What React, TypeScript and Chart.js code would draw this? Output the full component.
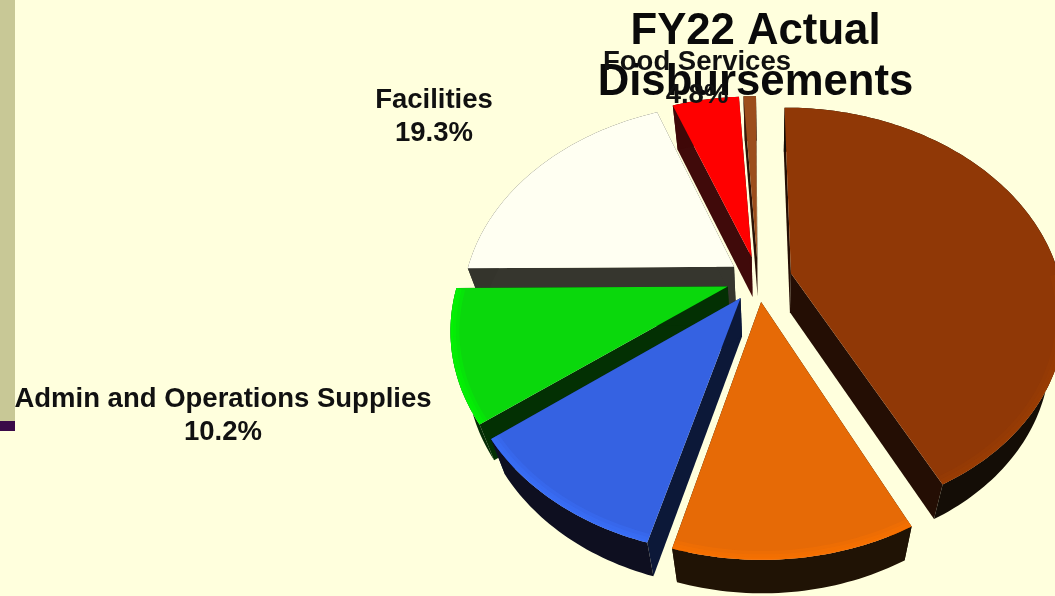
import React, { useEffect, useRef } from "react";
import { Chart, registerables } from "chart.js";

Chart.register(...registerables);

const categories = ["Salaries", "Benefits", "Purchased Services", "Admin and Operations Supplies", "Facilities", "Food Services", "Other"];
const shares = [42.6, 11.7, 10.4, 10.2, 19.3, 4.8, 0.9];
const explode = [29, 26, 26, 27, 25, 26, 26];
const topColors = ["#903806", "#e66a06", "#3562e2", "#0ad80c", "#fffff2", "#ff0000", "#9c4e1c"];
const rimColors = ["#a04004", "#ff7400", "#3a74ff", "#00ff00", "#ffffff", "#ff0000", "#a85420"];
const outerWalls = ["#140d06", "#201305", "#0e0f20", "#062c06", "#34342c", "#3f0808", "#3a1a0a"];
const sideWalls = ["#240e04", "#201305", "#0c1838", "#033003", "#36362e", "#400a0a", "#2a1206"];
const paintOrder = [4, 6, 5, 0, 3, 2, 1];
const titleLines = ["FY22 Actual", "Disbursements"];
const labelled = [
  { index: 4, x: 434, y: 100 },
  { index: 3, x: 223, y: 399 },
  { index: 5, x: 697, y: 62 },
];

// perspective view of the pie's plane
const view = { cx: 758, cy: 279, rx: 269, ry: 199, persp: 0.19, depthBack: 39, depthTilt: 5, vanishX: 770, converge: 0.05 };

function project(X: number, Y: number, z: number) {
  const w = 1 / (1 - view.persp * Y);
  const x = view.cx + view.rx * X * w;
  const y = view.cy + view.ry * Y * w + z * (view.depthBack - view.depthTilt * Y);
  return { x: x + (view.vanishX - x) * view.converge * z, y };
}

function poly(ctx: CanvasRenderingContext2D, pts: { x: number; y: number }[], fill: string) {
  ctx.beginPath();
  pts.forEach((p, i) => (i ? ctx.lineTo(p.x, p.y) : ctx.moveTo(p.x, p.y)));
  ctx.closePath();
  ctx.fillStyle = fill;
  ctx.fill();
}

const pie3d = {
  id: "pie3d",
  beforeDatasetsDraw(chart: any) {
    const { ctx } = chart;
    const arcs = chart.getDatasetMeta(0).data;
    ctx.save();
    paintOrder.forEach((i) => {
      const el = arcs[i];
      const { startAngle, endAngle, outerRadius } = el.getProps(["startAngle", "endAngle", "outerRadius"], true);
      const mid = (startAngle + endAngle) / 2;
      const r = el.options.offset / outerRadius;
      const ox = Math.cos(mid) * r;
      const oy = Math.sin(mid) * r;
      const steps = Math.max(3, Math.ceil((endAngle - startAngle) / 0.02));
      const angles = Array.from({ length: steps + 1 }, (_, k) => startAngle + ((endAngle - startAngle) * k) / steps);
      const top = angles.map((a) => project(ox + Math.cos(a), oy + Math.sin(a), 0));
      const bottom = angles.map((a) => project(ox + Math.cos(a), oy + Math.sin(a), 1));
      const apexTop = project(ox, oy, 0);
      const apexBottom = project(ox, oy, 1);
      poly(ctx, [apexTop, top[0], bottom[0], apexBottom], sideWalls[i]);
      poly(ctx, [apexTop, top[steps], bottom[steps], apexBottom], sideWalls[i]);
      poly(ctx, [...top, ...[...bottom].reverse()], outerWalls[i]);
      poly(ctx, [apexTop, ...top], el.options.backgroundColor);
      ctx.save();
      ctx.clip();
      ctx.strokeStyle = rimColors[i];
      [18, 11, 5].forEach((width) => {
        ctx.globalAlpha = 0.3;
        ctx.lineWidth = width;
        ctx.beginPath();
        let started = false;
        top.forEach((p, k) => {
          if (Math.sin(angles[k]) < 0) return;
          if (started) ctx.lineTo(p.x, p.y);
          else ctx.moveTo(p.x, p.y);
          started = true;
        });
        ctx.stroke();
      });
      ctx.restore();
    });
    ctx.fillStyle = "#111111";
    ctx.font = "bold 27.5px 'Liberation Sans'";
    ctx.textAlign = "center";
    ctx.textBaseline = "middle";
    labelled.forEach(({ index, x, y }) => {
      ctx.fillText(categories[index], x, y);
      ctx.fillText(`${shares[index].toFixed(1)}%`, x, y + 33);
    });
    ctx.restore();
    return false;
  },
};

export default function App() {
  const ref = useRef<HTMLCanvasElement>(null);
  useEffect(() => {
    const chart = new Chart(ref.current as HTMLCanvasElement, {
      type: "pie",
      data: {
        labels: categories,
        datasets: [{ data: shares, backgroundColor: topColors, offset: explode, borderWidth: 0 }],
      },
      options: {
        responsive: false,
        animation: false,
        events: [],
        rotation: -0.3,
        layout: { padding: { left: 456 } },
        plugins: {
          legend: { display: false },
          tooltip: { enabled: false },
          title: {
            display: true,
            text: titleLines,
            color: "#0a0a0a",
            fullSize: false,
            font: { family: "'Liberation Sans'", size: 43.7, weight: "bold", lineHeight: 1.18 },
            padding: { top: 6, bottom: 0 },
          },
        },
      },
      plugins: [pie3d],
    } as any);
    return () => chart.destroy();
  }, []);
  return (
    <div style={{ position: "fixed", left: 0, top: 0, width: 1055, height: 596, overflow: "hidden", background: "#ffffdd" }}>
      <div style={{ position: "absolute", left: 0, top: 0, width: 15, height: 421, background: "#c8c896" }} />
      <div style={{ position: "absolute", left: 0, top: 421, width: 15, height: 10, background: "#3a0a48" }} />
      <canvas ref={ref} width={1055} height={596} style={{ position: "absolute", left: 0, top: 0, filter: "blur(0.6px)" }} />
    </div>
  );
}
